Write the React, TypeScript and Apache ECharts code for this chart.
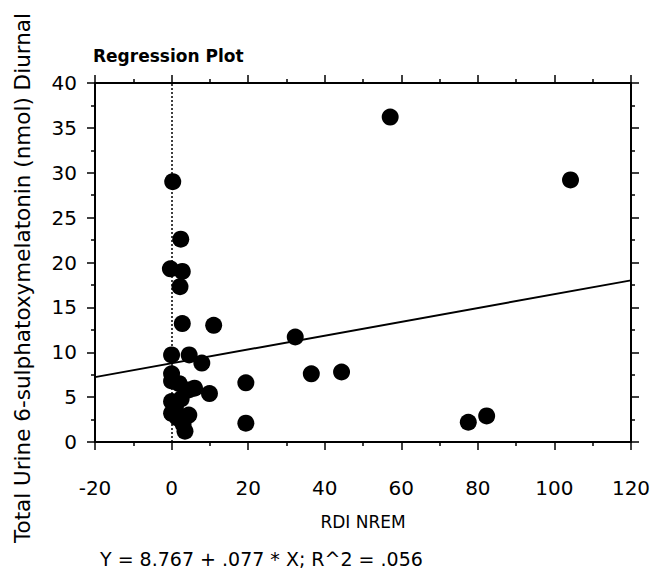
import React, { useEffect, useRef } from "react";
import * as echarts from "echarts";

const rdiNrem: number[] = [
  57.1, 104.2, 0.3, 2.4, -0.3, 2.8, 2.2, 2.8, 11.0, 32.3,
  0.0, 4.6, 7.9, 36.5, 44.4, 19.4, 9.9, 19.4, 77.5, 82.3,
  0.0, 0.0, 2.0, 4.5, 6.0, 0.0, 1.0, 2.5, 4.5, 0.0,
  1.5, 3.5, 3.0,
];
const melatonin: number[] = [
  36.2, 29.2, 29.0, 22.6, 19.3, 19.0, 17.3, 13.2, 13.0, 11.7,
  9.7, 9.7, 8.8, 7.6, 7.8, 6.6, 5.4, 2.1, 2.2, 2.9,
  7.6, 6.8, 6.5, 5.8, 6.0, 4.5, 3.8, 4.8, 3.0, 3.2,
  2.7, 1.2, 2.0,
];
const intercept = 8.767;
const slope = 0.077;
const xRange: number[] = [-20, 120];
const yRange: number[] = [0, 40];
const titleText = "Regression Plot";
const xTitle = "RDI NREM";
const yTitle = "Total Urine 6-sulphatoxymelatonin (nmol) Diurnal";
const equation = "Y = 8.767 + .077 * X; R^2 = .056";

const FONT = "DejaVu Sans";

export default function App() {
  const ref = useRef<HTMLDivElement>(null);
  useEffect(() => {
    if (!ref.current) return;
    const chart = echarts.init(ref.current, null, { renderer: "svg" });
    const points = rdiNrem.map((x, i) => [x, melatonin[i]]);
    const fit = xRange.map((x) => [x, intercept + slope * x]);
    const axisLine = { show: true, onZero: false, lineStyle: { color: "#000", width: 2 } };
    const tick = { show: true, inside: false, length: 8, lineStyle: { color: "#000", width: 1.5 } };
    const minor = { show: true, splitNumber: 2, length: 4, lineStyle: { color: "#000", width: 1.5 } };
    chart.setOption({
      animation: false,
      backgroundColor: "#fff",
      title: {
        text: titleText,
        left: 88,
        top: 42,
        textStyle: { fontFamily: FONT, fontSize: 17, fontWeight: "bold", color: "#000" },
      },
      grid: { left: 95, right: 24, top: 83, bottom: 135 },
      xAxis: [
        {
          type: "value",
          min: xRange[0],
          max: xRange[1],
          interval: 20,
          position: "bottom",
          axisLine,
          axisTick: tick,
          minorTick: minor,
          splitLine: { show: false },
          axisLabel: { margin: 36, fontFamily: FONT, fontSize: 20, color: "#000" },
          name: xTitle,
          nameLocation: "middle",
          nameGap: 71,
          nameTextStyle: { fontFamily: FONT, fontSize: 17, color: "#000" },
        },
        {
          type: "value",
          min: xRange[0],
          max: xRange[1],
          interval: 20,
          position: "top",
          axisLine,
          axisTick: tick,
          minorTick: minor,
          splitLine: { show: false },
          axisLabel: { show: false },
        },
      ],
      yAxis: [
        {
          type: "value",
          min: yRange[0],
          max: yRange[1],
          interval: 5,
          position: "left",
          axisLine,
          axisTick: tick,
          minorTick: minor,
          splitLine: { show: false },
          axisLabel: { margin: 18, fontFamily: FONT, fontSize: 20, color: "#000" },
        },
        {
          type: "value",
          min: yRange[0],
          max: yRange[1],
          interval: 5,
          position: "right",
          axisLine,
          axisTick: tick,
          minorTick: minor,
          splitLine: { show: false },
          axisLabel: { show: false },
        },
      ],
      graphic: [
        {
          type: "text",
          x: 22,
          y: 543,
          rotation: Math.PI / 2,
          style: {
            text: yTitle,
            fontFamily: FONT,
            fontSize: 21.5,
            fill: "#000",
            textAlign: "left",
            textVerticalAlign: "middle",
          },
        },
        {
          type: "text",
          x: 100,
          y: 559,
          style: {
            text: equation,
            fontFamily: FONT,
            fontSize: 19,
            fill: "#000",
            textAlign: "left",
            textVerticalAlign: "middle",
          },
        },
      ],
      series: [
        {
          type: "line",
          data: fit,
          symbol: "none",
          lineStyle: { color: "#000", width: 2 },
          z: 2,
          markLine: {
            silent: true,
            symbol: "none",
            label: { show: false },
            lineStyle: { color: "#000", type: [2, 2], width: 1.5 },
            data: [{ xAxis: 0 }],
          },
        },
        {
          type: "scatter",
          data: points,
          symbol: "circle",
          symbolSize: 17,
          itemStyle: { color: "#000", opacity: 1 },
          z: 3,
        },
      ],
    });
    return () => chart.dispose();
  }, []);
  return (
    <div
      ref={ref}
      style={{ position: "fixed", left: 0, top: 0, width: 655, height: 577, background: "#fff" }}
    />
  );
}
